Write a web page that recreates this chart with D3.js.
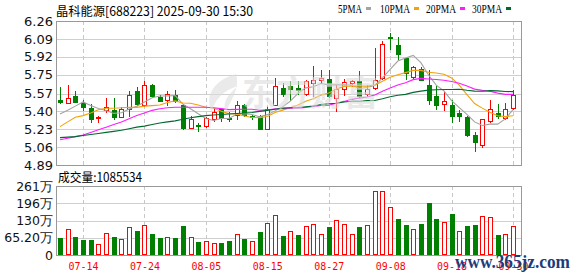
<!DOCTYPE html>
<html>
<head>
<meta charset="utf-8">
<script src="https://cdn.jsdelivr.net/npm/d3@7"></script>
<style>
  body { margin: 0; background: #fff; }
  svg { display: block; }
</style>
</head>
<body>
<svg id="draw" width="578" height="276"></svg>
<script>
// trading days shown, 2025-07-09 .. 2025-09-30
const dates = ["07-09","07-10","07-11","07-14","07-15","07-16","07-17","07-18","07-21","07-22",
  "07-23","07-24","07-25","07-28","07-29","07-30","07-31","08-01","08-04","08-05",
  "08-06","08-07","08-08","08-11","08-12","08-13","08-14","08-15","08-18","08-19",
  "08-20","08-21","08-22","08-25","08-26","08-27","08-28","08-29","09-01","09-02",
  "09-03","09-04","09-05","09-08","09-09","09-10","09-11","09-12","09-15","09-16",
  "09-17","09-18","09-19","09-22","09-23","09-24","09-25","09-26","09-29","09-30"];

const open = [5.51,5.48,5.55,5.48,5.43,5.34,5.41,5.41,5.35,5.425,
  5.59,5.46,5.65,5.54,5.505,5.56,5.465,5.245,5.275,5.26,
  5.33,5.42,5.34,5.37,5.465,5.36,5.36,5.235,5.465,5.625,
  5.64,5.62,5.565,5.67,5.70,5.71,5.525,5.615,5.67,5.69,
  5.57,5.62,5.72,6.11,6.03,5.905,5.725,5.805,5.65,5.55,
  5.475,5.465,5.38,5.35,5.18,5.08,5.31,5.38,5.34,5.43];
const high = [5.63,5.655,5.59,5.51,5.475,5.355,5.53,5.53,5.44,5.59,
  5.63,5.69,5.66,5.56,5.59,5.60,5.475,5.355,5.29,5.35,
  5.425,5.425,5.395,5.495,5.47,5.37,5.365,5.445,5.715,5.67,
  5.685,5.685,5.70,5.83,5.795,5.795,5.655,5.71,5.70,5.785,
  5.65,6.005,6.07,6.145,6.11,5.91,5.83,5.82,5.79,5.64,
  5.59,5.51,5.41,5.355,5.205,5.33,5.51,5.475,5.48,5.60];
const low = [5.48,5.48,5.49,5.41,5.30,5.30,5.39,5.33,5.35,5.355,
  5.46,5.455,5.54,5.50,5.46,5.49,5.23,5.245,5.21,5.255,
  5.305,5.305,5.31,5.33,5.355,5.325,5.23,5.235,5.46,5.55,
  5.51,5.57,5.555,5.55,5.675,5.54,5.40,5.56,5.64,5.54,
  5.55,5.615,5.71,5.99,5.90,5.71,5.705,5.695,5.475,5.425,
  5.41,5.30,5.31,5.17,5.02,5.065,5.30,5.335,5.33,5.425];
const close = [5.49,5.53,5.49,5.44,5.33,5.345,5.44,5.35,5.42,5.56,
  5.47,5.65,5.545,5.50,5.565,5.495,5.24,5.325,5.265,5.34,
  5.395,5.34,5.325,5.465,5.37,5.35,5.235,5.425,5.645,5.57,
  5.615,5.60,5.69,5.70,5.72,5.55,5.615,5.675,5.69,5.55,
  5.615,5.70,6.04,6.095,5.945,5.765,5.82,5.695,5.505,5.465,
  5.495,5.355,5.36,5.18,5.11,5.325,5.42,5.36,5.425,5.555];

const ma5 = [5.375,5.41,5.45,5.49,5.456,5.427,5.409,5.381,5.387,5.423,
  5.448,5.49,5.529,5.547,5.546,5.551,5.469,5.425,5.378,5.333,
  5.313,5.333,5.333,5.373,5.379,5.37,5.349,5.369,5.405,5.445,
  5.498,5.571,5.624,5.635,5.665,5.652,5.655,5.652,5.65,5.616,
  5.629,5.646,5.719,5.80,5.879,5.909,5.933,5.864,5.746,5.65,
  5.596,5.503,5.436,5.371,5.30,5.266,5.279,5.279,5.328,5.417];
const ma10 = [5.255,5.30,5.345,5.36,5.385,5.415,5.43,5.43,5.435,5.44,
  5.438,5.45,5.455,5.461,5.485,5.50,5.48,5.477,5.46,5.44,
  5.432,5.401,5.379,5.376,5.356,5.342,5.341,5.351,5.389,5.412,
  5.434,5.46,5.497,5.52,5.555,5.575,5.613,5.638,5.643,5.64,
  5.64,5.65,5.686,5.725,5.748,5.769,5.79,5.79,5.773,5.765,
  5.753,5.718,5.65,5.559,5.475,5.431,5.391,5.358,5.35,5.359];
const ma20 = [5.13,5.145,5.16,5.175,5.20,5.225,5.25,5.275,5.30,5.33,
  5.36,5.385,5.41,5.425,5.435,5.44,5.44,5.44,5.44,5.44,
  5.435,5.426,5.417,5.419,5.421,5.421,5.411,5.414,5.425,5.426,
  5.433,5.431,5.438,5.448,5.456,5.459,5.477,5.495,5.516,5.526,
  5.537,5.555,5.592,5.623,5.652,5.672,5.702,5.714,5.708,5.703,
  5.697,5.684,5.668,5.642,5.612,5.60,5.591,5.574,5.562,5.562];
const ma30 = [5.15,5.155,5.16,5.17,5.18,5.19,5.20,5.21,5.22,5.235,
  5.25,5.26,5.275,5.29,5.30,5.31,5.325,5.34,5.35,5.36,
  5.365,5.37,5.375,5.38,5.385,5.39,5.40,5.41,5.42,5.431,
  5.435,5.437,5.444,5.452,5.465,5.472,5.478,5.489,5.497,5.497,
  5.502,5.504,5.521,5.54,5.553,5.562,5.581,5.593,5.602,5.606,
  5.609,5.609,5.611,5.601,5.593,5.592,5.598,5.595,5.589,5.588];

// volume in 万 (10k shares); volUp = red bar
const volume = [64,97,68,57,57,42,82,68,59,105,
  91,112,79,64,68,64,110,67,50,53,
  45,47,54,79,60,54,87,121,151,72,
  90,76,110,117,79,106,132,117,79,106,
  113,242,242,181,136,113,98,117,197,136,
  125,155,91,110,113,147,144,76,79,108.5534];
const volUp = [0,1,0,0,0,1,1,0,1,1,
  0,1,0,0,1,0,0,1,0,1,
  1,0,0,1,0,1,0,1,1,0,
  1,0,1,1,1,0,1,1,1,0,
  1,1,1,1,0,0,1,0,0,0,
  1,0,1,0,0,1,1,0,1,1];

const dateTicks = ["07-14","07-24","08-05","08-15","08-27","09-08","09-18","09-30"];
const priceTicks = [4.89,5.06,5.23,5.40,5.57,5.75,5.92,6.09,6.26];
const priceLabels = ["4.89","5.06","5.23","5.40","5.57","5.75","5.92","6.09","6.26"];
const volTicks = [0,65.2,130,196,261];
const volLabels = ["0","65.20万","130万","196万","261万"];

const maSeries = [
  {name: "5PMA", values: ma5, color: "#a3a3a3"},
  {name: "10PMA", values: ma10, color: "#f0a30a"},
  {name: "20PMA", values: ma20, color: "#ff1cff"},
  {name: "30PMA", values: ma30, color: "#00692f"}
];

const RED = "#ff0000", GREEN = "#008000";
const left = 56, right = 522;
const pTop = 21, pBot = 165, vTop = 186, vBot = 255;

const svg = d3.select("#draw");

const x = d3.scalePoint().domain(dates).range([60, 513]);
const y = d3.scaleLinear().domain([4.89, 6.26]).range([pBot, pTop]);
const yv = d3.scaleLinear().domain([0, 261]).range([vBot, vTop]);
const px = d => Math.round(x(d));

// grids
function panelGrid(ticks, scale, top, bot) {
  const g = svg.append("g");
  g.selectAll(".hg").data(ticks).enter().append("line")
    .attr("x1", left).attr("x2", right)
    .attr("y1", d => Math.round(scale(d)) + 0.5)
    .attr("y2", d => Math.round(scale(d)) + 0.5)
    .attr("stroke", "#cfcfcf");
  g.selectAll(".vg").data(dateTicks).enter().append("line")
    .attr("x1", d => px(d) + 0.5).attr("x2", d => px(d) + 0.5)
    .attr("y1", top).attr("y2", bot)
    .attr("stroke", "#c8c8c8")
    .attr("stroke-dasharray", "4,3");
  g.append("rect")
    .attr("x", left + 0.5).attr("y", top + 0.5)
    .attr("width", right - left - 1).attr("height", bot - top)
    .attr("fill", "none").attr("stroke", "#999");
}
panelGrid(priceTicks, y, pTop, pBot);
panelGrid(volTicks, yv, vTop, vBot);

// y axes
svg.append("g")
  .attr("transform", "translate(" + (left - 1) + ",0)")
  .call(d3.axisLeft(y).tickValues(priceTicks).tickSize(0).tickPadding(2)
    .tickFormat((d, i) => priceLabels[i]))
  .call(g => g.select(".domain").remove())
  .selectAll("text")
  .attr("font-family", "DejaVu Sans, Verdana, sans-serif")
  .attr("font-size", 13)
  .attr("fill", "#111");

svg.append("g")
  .attr("transform", "translate(" + (left - 1) + ",0)")
  .call(d3.axisLeft(yv).tickValues(volTicks).tickSize(0).tickPadding(2)
    .tickFormat((d, i) => volLabels[i]))
  .call(g => g.select(".domain").remove())
  .selectAll("text")
  .attr("font-family", "DejaVu Sans, Verdana, sans-serif")
  .attr("font-size", 12.5)
  .attr("fill", "#111");

// x axis labels
svg.append("g")
  .attr("transform", "translate(0," + vBot + ")")
  .call(d3.axisBottom(x).tickValues(dateTicks).tickSize(0).tickPadding(7))
  .call(g => g.select(".domain").remove())
  .selectAll("text")
  .attr("font-family", "DejaVu Sans Mono, monospace")
  .attr("font-size", 11)
  .attr("textLength", 30)
  .attr("lengthAdjust", "spacingAndGlyphs")
  .attr("fill", RED);

// candles
const idx = d3.range(dates.length);
const candles = svg.append("g");
candles.selectAll(".wick").data(idx).enter().append("line")
  .attr("x1", i => px(dates[i]) + 0.5).attr("x2", i => px(dates[i]) + 0.5)
  .attr("y1", i => Math.round(y(high[i])))
  .attr("y2", i => Math.round(y(low[i])) + 1)
  .attr("stroke", i => close[i] > open[i] ? RED : GREEN);

candles.selectAll(".body").data(idx).enter().append("rect")
  .each(function(i) {
    const up = close[i] > open[i];
    const t = Math.round(y(Math.max(open[i], close[i])));
    const b = Math.round(y(Math.min(open[i], close[i])));
    const c = px(dates[i]);
    const r = d3.select(this);
    if (up) {
      r.attr("x", c - 1.5).attr("y", t + 0.5).attr("width", 4)
        .attr("height", Math.max(1, b - t))
        .attr("fill", "#fff").attr("stroke", RED);
    } else {
      r.attr("x", c - 2).attr("y", t).attr("width", 5)
        .attr("height", Math.max(1, b - t + 1))
        .attr("fill", GREEN);
    }
  });

// moving averages
const line = d3.line().x((d, i) => x(dates[i])).y(d => y(d));
svg.append("g").selectAll("path").data(maSeries).enter().append("path")
  .attr("d", d => line(d.values))
  .attr("fill", "none")
  .attr("stroke", d => d.color)
  .attr("stroke-width", 1.1);

// volume bars
svg.append("g").selectAll("rect").data(idx).enter().append("rect")
  .each(function(i) {
    const t = Math.round(yv(volume[i]));
    const c = px(dates[i]);
    const r = d3.select(this);
    if (volUp[i]) {
      r.attr("x", c - 1.5).attr("y", t + 0.5).attr("width", 4)
        .attr("height", vBot - 1 - t)
        .attr("fill", "#fff").attr("stroke", RED);
    } else {
      r.attr("x", c - 2).attr("y", t).attr("width", 5)
        .attr("height", vBot - t).attr("fill", GREEN);
    }
  });

// title and legend
svg.append("text")
  .attr("x", 56).attr("y", 16)
  .attr("font-family", "Noto Sans CJK SC, sans-serif")
  .attr("font-size", 12.5)
  .attr("textLength", 197).attr("lengthAdjust", "spacingAndGlyphs")
  .attr("fill", "#000")
  .text("晶科能源[688223] 2025-09-30 15:30");

const legendX = [338, 380, 426, 472];
const legendW = [24, 30, 30, 30];
const lg = svg.append("g").selectAll("g").data(maSeries).enter().append("g");
lg.append("text")
  .attr("x", (d, i) => legendX[i]).attr("y", 13)
  .attr("font-family", "Liberation Serif, serif")
  .attr("font-size", 13)
  .attr("textLength", (d, i) => legendW[i]).attr("lengthAdjust", "spacingAndGlyphs")
  .attr("fill", "#000")
  .text(d => d.name);
lg.append("rect")
  .attr("x", (d, i) => legendX[i] + legendW[i] + 4).attr("y", 7)
  .attr("width", 5).attr("height", 3)
  .attr("fill", d => d.color);

svg.append("text")
  .attr("x", 58).attr("y", 182)
  .attr("font-family", "Noto Sans CJK SC, sans-serif")
  .attr("font-size", 12.5)
  .attr("textLength", 84).attr("lengthAdjust", "spacingAndGlyphs")
  .attr("fill", "#000")
  .text("成交量:" + Math.round(volume[volume.length - 1] * 10000));

// watermarks
svg.append("path")
  .attr("d", "M236,74 C214,80 204,96 212,112 C214,100 224,90 238,86 C226,96 222,104 226,112 C232,98 240,88 236,74 Z")
  .attr("fill", "#dcdcdc").attr("opacity", 0.6);
svg.append("text")
  .attr("x", 242).attr("y", 106)
  .attr("font-family", "Noto Sans CJK SC, sans-serif")
  .attr("font-weight", "bold")
  .attr("font-size", 35)
  .attr("textLength", 136).attr("lengthAdjust", "spacingAndGlyphs")
  .attr("fill", "#dcdcdc").attr("opacity", 0.6)
  .text("东方财富");

svg.append("text")
  .attr("x", 455).attr("y", 268)
  .attr("font-family", "Liberation Serif, serif")
  .attr("font-weight", "bold")
  .attr("font-size", 18)
  .attr("textLength", 115).attr("lengthAdjust", "spacingAndGlyphs")
  .attr("fill", "#1d3c7c")
  .text("www.365jz.com");
</script>
</body>
</html>
